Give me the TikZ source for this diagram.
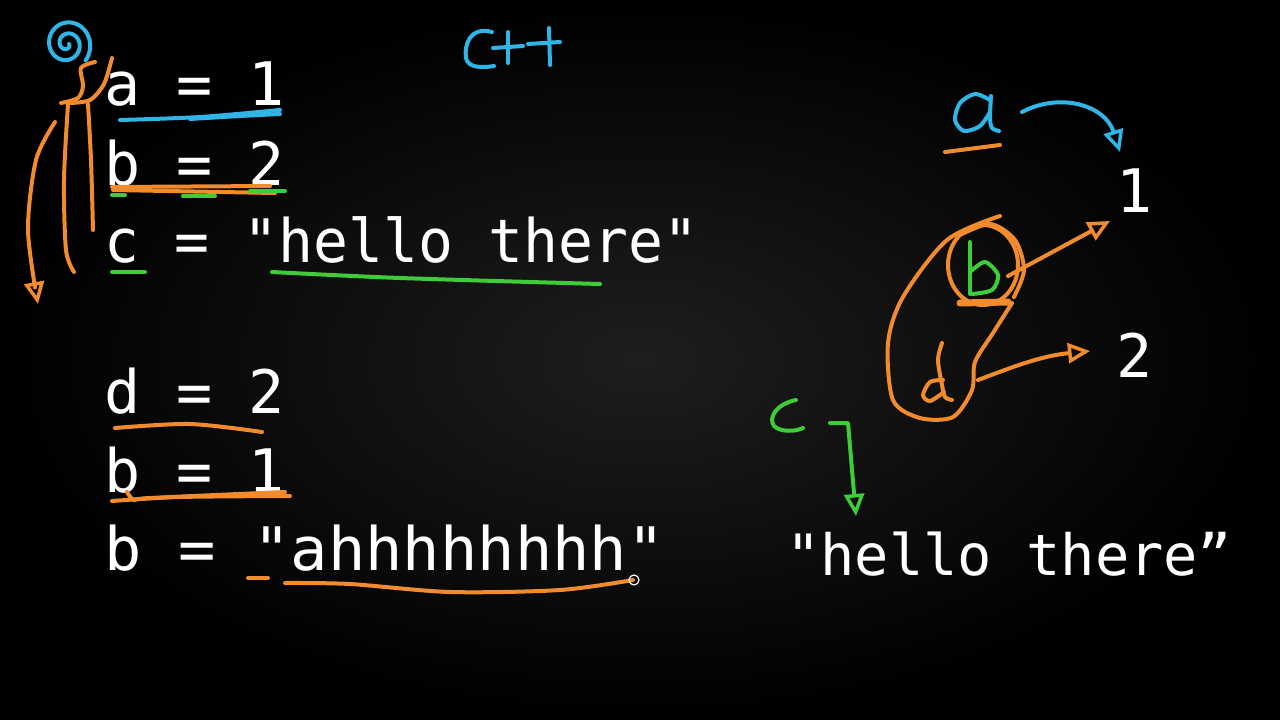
\documentclass[tikz,border=0pt]{standalone}
\usepackage{fontspec}
\setmonofont{DejaVu Sans Mono}
\usetikzlibrary{arrows.meta}
\definecolor{cy}{HTML}{2FB5E6}
\definecolor{og}{HTML}{F28A2E}
\definecolor{gr}{HTML}{3ECC3A}
\definecolor{bgin}{HTML}{1E1E1E}
\tikzset{
  pen/.style={line width=4pt, line cap=round, line join=round},
  code/.style={text=white, font=\ttfamily\fontsize{60}{72}\selectfont, anchor=base west, inner sep=0pt},
  codeR/.style={code, font=\ttfamily\fontsize{57}{70}\selectfont},
  tip/.style={-{Triangle[open, length=22pt, width=20pt, line width=3.5pt]}}
}
\begin{document}
\begin{tikzpicture}[x=1pt,y=-1pt]
\useasboundingbox (0,0) rectangle (1280,720);
\shade[inner color=bgin, outer color=black] (0,0) rectangle (1280,720);

% ---- code lines (left)
\node[code] (la)  at (104,105) {a = 1};
\node[code] (lb)  at (104,185) {b = 2};
\node[code] (lc)  at (104,262) {\scalebox{0.967}[1]{c = "hello there"}};
\node[code] (ld)  at (104,413) {d = 2};
\node[code] (lb2) at (104,492) {b = 1};
\node[code] (lb3) at (104,570) {\scalebox{1.034}[1]{b = "ahhhhhhhh"}};

% ---- right side values
\node[code]  (one) at (1116,212) {1};
\node[code]  (two) at (1116,377) {2};
\node[codeR] (hs)  at (786,575) {"hello there”};

% ---- cyan @ and C++
\draw[cy,pen] plot[domain=0:760, samples=90, smooth, variable=\t]
  ({67+(2+\t/34)*cos(\t)}, {44+(2+\t/34)*1.05*sin(\t)});
\draw[cy,pen] (492,32) .. controls (470,26) and (464,45) .. (466,58)
  .. controls (468,68) and (482,68) .. (494,66);
\draw[cy,pen] (493,48) -- (523,46);
\draw[cy,pen] (508,32) -- (508,63);
\draw[cy,pen] (528,44) -- (560,42);
\draw[cy,pen] (549,28) -- (550,65);

% ---- orange brace and arrows on the left
\draw[og,pen] plot[smooth] coordinates {(95,62) (81,68) (83,86) (78,98) (61,103)};
\draw[og,pen] plot[smooth] coordinates {(112,58) (104,84) (90,100) (70,103)};
\draw[og,pen] plot[smooth] coordinates {(68,104) (64,180) (66,250) (74,272)};
\draw[og,pen] plot[smooth] coordinates {(88,104) (91,160) (93,230)};
\coordinate (lt) at (38,304);
\draw[og,pen,tip] plot[smooth] coordinates {(55,122) (36,160) (28,230) (lt)};

% ---- underlines
\draw[cy,pen] plot[smooth] coordinates {(120,120) (200,117) (280,110)};
\draw[cy,pen] plot[smooth] coordinates {(190,119) (240,116) (280,114)};
\draw[og,pen] (112,187) -- (270,186);
\draw[og,pen] (113,190) -- (275,193);
\draw[gr,pen] (112,195) -- (125,195);
\draw[gr,pen] (183,196) -- (215,196);
\draw[gr,pen] (250,191) -- (285,191);
\draw[gr,pen] (112,272) -- (145,272);
\draw[gr,pen] plot[smooth] coordinates {(272,272) (400,278) (600,284)};
\draw[og,pen] plot[smooth] coordinates {(115,428) (190,424) (262,432)};
\draw[og,pen] plot[smooth] coordinates {(112,501) (180,497) (290,496)};
\draw[og,pen] plot[smooth] coordinates {(127,492) (134,500) (150,498) (285,492)};
\draw[og,pen] (248,578) -- (268,578);
\draw[og,pen] plot[smooth] coordinates {(285,583) (350,584) (450,592) (560,590) (633,580)};
\draw[white, line width=1.2pt] (634,580) circle (5);

% ---- right diagram: a -> 1
\draw[cy,pen] plot[smooth] coordinates {(990,100) (975,94) (960,103) (955,120) (964,131) (980,126) (990,112)};
\draw[cy,pen] plot[smooth] coordinates {(991,96) (990,118) (992,128) (999,131)};
\draw[og,pen] (945,152) -- (1000,145);
\coordinate (aS) at (1022,112);
\coordinate (aE) at (1120,152);
\draw[cy,pen,tip] (aS) .. controls (1060,92) and (1105,105) .. (aE);

% ---- b and d blob
\draw[og,pen] plot[smooth] coordinates {(1000,216) (947,240) (903,297) (888,343) (893,400) (920,418) (953,417) (972,390) (975,362) (993,333) (1012,303)};
\draw[og,pen] (983,265) ellipse [x radius=35, y radius=40];
\draw[og,pen] plot[smooth] coordinates {(958,236) (990,224) (1015,240) (1024,270) (1014,297)};
\draw[og,line width=7pt,line cap=round] (960,303) -- (1008,302);
% green b
\draw[gr,pen] (970,242) -- (970,294);
\draw[gr,pen] plot[smooth] coordinates {(970,272) (985,262) (998,275) (992,290) (972,294)};
% orange d
\draw[og,pen] plot[smooth] coordinates {(942,343) (938,360) (942,385) (945,397) (952,400)};
\draw[og,pen] plot[smooth] coordinates {(943,380) (930,382) (923,395) (930,401) (944,392)};
\coordinate (bS) at (1008,276);
\coordinate (bE) at (1110,221);
\draw[og,pen,tip] (bS) -- (bE);
\coordinate (dS) at (978,380);
\coordinate (dE) at (1090,351);
\draw[og,pen,tip] (dS) .. controls (1010,368) and (1040,356) .. (dE);

% ---- c -> "hello there"
\draw[gr,pen] (796,400) .. controls (776,404) and (768,418) .. (774,426)
  .. controls (780,432) and (795,432) .. (803,428);
\coordinate (cS) at (830,423);
\coordinate (cE) at (856,516);
\draw[gr,pen,tip] (cS) -- (848,423) -- (852,470) -- (cE);
\end{tikzpicture}
\end{document}
